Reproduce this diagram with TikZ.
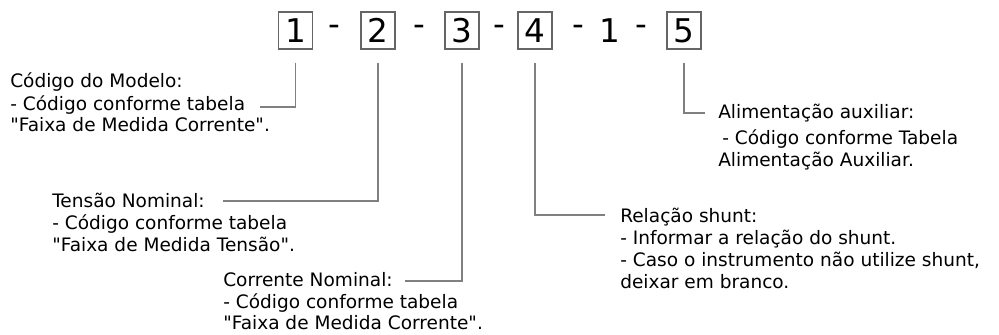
\documentclass[tikz,border=0pt]{standalone}
\usepackage{fontspec}
\setmainfont{DejaVu Sans}[Ligatures=TeXOff]
\usetikzlibrary{calc}
\tikzset{
  digitbox/.style={draw=black!60, line width=0.9pt, minimum width=25.5pt, minimum height=27.75pt, inner sep=0pt, font=\fontsize{24.5}{28}\selectfont},
  sepchar/.style={inner sep=0pt, font=\fontsize{24.5}{28}\selectfont},
  label/.style={anchor=base west, inner sep=0pt, font=\fontsize{13.9}{16.5}\selectfont},
  conn/.style={draw=black!50, line width=0.8pt}
}
\begin{document}
\begin{tikzpicture}[x=0.75pt,y=-0.75pt]
\useasboundingbox (0,0) rectangle (999,335);
% top code
\node[digitbox] (b1) at (295.5,30.5) {1};
\node[sepchar]  (d1) at (334.5,30.5) {-};
\node[digitbox] (b2) at (378,30.5) {2};
\node[sepchar]  (d2) at (419,30.5) {-};
\node[digitbox] (b3) at (462,30.5) {3};
\node[sepchar]  (d3) at (499,30.5) {-};
\node[digitbox] (b4) at (535,30.5) {4};
\node[sepchar]  (d4) at (578.5,30.5) {-};
\node[sepchar]  (one) at (610,30.5) {1};
\node[sepchar]  (d5) at (641,30.5) {-};
\node[digitbox] (b5) at (684,30.5) {5};
% block 1
\node[label] (t1a) at (10,88) {Código do Modelo:};
\node[label] (t1b) at (10,110) {- Código conforme tabela};
\node[label] (t1c) at (10,132) {"Faixa de Medida Corrente".};
% block 2
\node[label] (t2a) at (52,207) {Tensão Nominal:};
\node[label] (t2b) at (52,229) {- Código conforme tabela};
\node[label] (t2c) at (52,251) {"Faixa de Medida Tensão".};
% block 3
\node[label] (t3a) at (223,286) {Corrente Nominal:};
\node[label] (t3b) at (223,308) {- Código conforme tabela};
\node[label] (t3c) at (223,329) {"Faixa de Medida Corrente".};
% block 4
\node[label] (t4a) at (620,222) {Relação shunt:};
\node[label] (t4b) at (620,244) {- Informar a relação do shunt.};
\node[label] (t4c) at (620,266) {- Caso o instrumento não utilize shunt,};
\node[label] (t4d) at (620,288) {deixar em branco.};
% block 5
\node[label] (t5a) at (718,118) {Alimentação auxiliar:};
\node[label] (t5b) at (722,144) {- Código conforme Tabela};
\node[label] (t5c) at (718,166) {Alimentação Auxiliar.};
% connector ends
\coordinate (e1) at (260,107);
\coordinate (e2) at (223,201);
\coordinate (e3) at (405,281);
\coordinate (e4) at (605,215);
\coordinate (e5) at (705,113);
\draw[conn] ($(b1.south)+(0,13)$) |- (e1);
\draw[conn] ($(b2.south)+(0,13)$) |- (e2);
\draw[conn] ($(b3.south)+(0,13)$) |- (e3);
\draw[conn] ($(b4.south)+(0,13)$) |- (e4);
\draw[conn] ($(b5.south)+(0,13)$) |- (e5);
\end{tikzpicture}
\end{document}
